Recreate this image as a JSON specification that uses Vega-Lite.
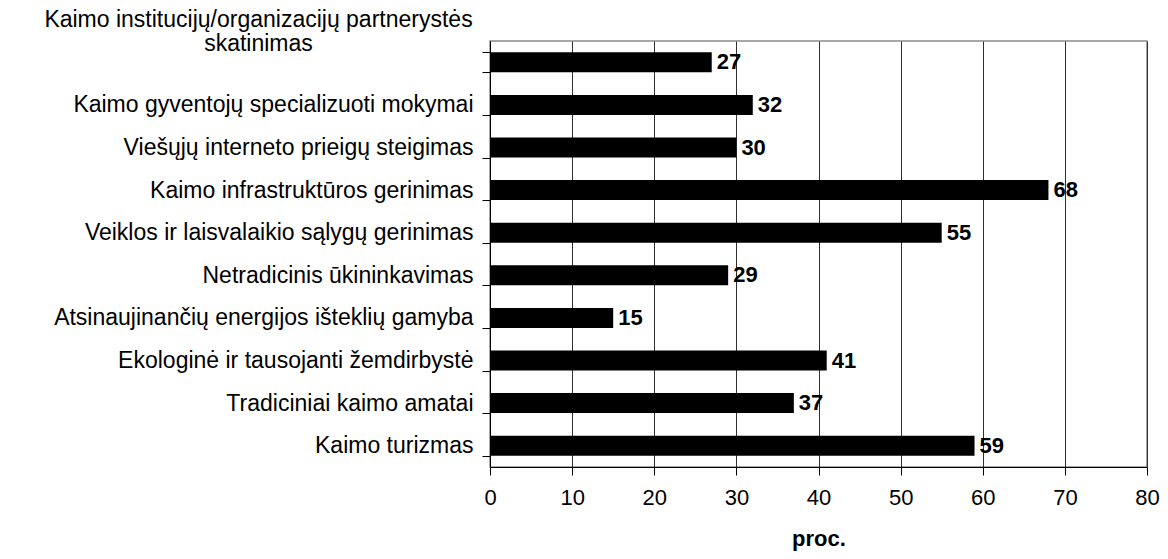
{
  "$schema": "https://vega.github.io/schema/vega-lite/v6.json",
  "autosize": "none",
  "padding": {"left": 490, "top": 41, "right": 21, "bottom": 92},
  "width": 657,
  "height": 426,
  "background": "white",
  "config": {
    "view": {"stroke": "#8c8c8c", "strokeWidth": 1.5},
    "font": "Liberation Sans"
  },
  "data": {
    "values": [
      {"kategorija": "Kaimo institucijų/organizacijų partnerystės skatinimas", "proc": 27},
      {"kategorija": "Kaimo gyventojų specializuoti mokymai", "proc": 32},
      {"kategorija": "Viešųjų interneto prieigų steigimas", "proc": 30},
      {"kategorija": "Kaimo infrastruktūros gerinimas", "proc": 68},
      {"kategorija": "Veiklos ir laisvalaikio sąlygų gerinimas", "proc": 55},
      {"kategorija": "Netradicinis ūkininkavimas", "proc": 29},
      {"kategorija": "Atsinaujinančių energijos išteklių gamyba", "proc": 15},
      {"kategorija": "Ekologinė ir tausojanti žemdirbystė", "proc": 41},
      {"kategorija": "Tradiciniai kaimo amatai", "proc": 37},
      {"kategorija": "Kaimo turizmas", "proc": 59}
    ]
  },
  "encoding": {
    "y": {
      "field": "kategorija",
      "type": "nominal",
      "sort": null,
      "scale": {"paddingInner": 0.53, "paddingOuter": 0.265},
      "axis": {
        "title": null,
        "domainColor": "black",
        "domainWidth": 1,
        "tickColor": "black",
        "tickSize": 8,
        "tickBand": "extent",
        "labelFontSize": 23,
        "labelColor": "black",
        "labelFont": "Liberation Sans",
        "labelLimit": 600,
        "labelPadding": {"condition": {"test": "datum.index === 0", "value": 224}, "value": 9},
        "labelAlign": {"condition": {"test": "datum.index === 0", "value": "center"}, "value": "right"},
        "labelOffset": {"condition": {"test": "datum.index === 0", "value": -43}, "value": 0},
        "labelLineHeight": 24,
        "labelExpr": "datum.index === 0 ? ['Kaimo institucijų/organizacijų partnerystės', 'skatinimas'] : datum.label",
        "grid": false
      }
    },
    "x": {
      "field": "proc",
      "type": "quantitative",
      "scale": {"domain": [0, 80], "nice": false},
      "axis": {
        "title": "proc.",
        "titleFontSize": 22,
        "titleFontWeight": "bold",
        "titleColor": "black",
        "titleFont": "Liberation Sans",
        "titlePadding": 20,
        "values": [0, 10, 20, 30, 40, 50, 60, 70, 80],
        "labelFontSize": 22,
        "labelColor": "black",
        "labelFont": "Liberation Sans",
        "labelPadding": 12,
        "labelFlush": false,
        "tickSize": 8,
        "tickColor": "black",
        "domainColor": "black",
        "grid": true,
        "gridColor": "#303030",
        "gridWidth": 1
      }
    }
  },
  "layer": [
    {"mark": {"type": "bar", "color": "black"}},
    {
      "mark": {"type": "text", "align": "left", "baseline": "middle", "dx": 5, "fontSize": 22, "fontWeight": "bold", "color": "black", "font": "Liberation Sans"},
      "encoding": {"text": {"field": "proc", "type": "quantitative"}}
    }
  ]
}
